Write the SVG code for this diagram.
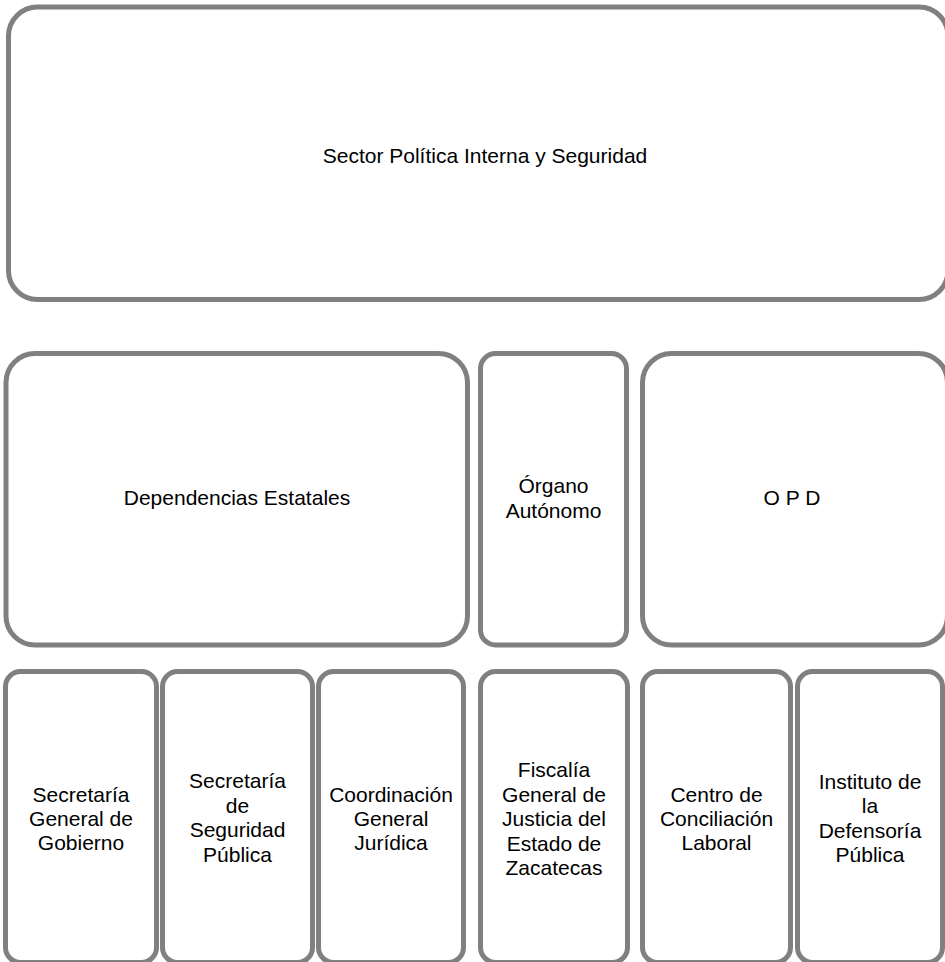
<svg xmlns="http://www.w3.org/2000/svg" width="945" height="962" viewBox="0 0 945 962">
<style>
.box{fill:#fff;stroke:#808080;stroke-width:5}
text{font-family:"Liberation Sans",Arial,sans-serif;font-size:21px;fill:#000;text-anchor:middle}
</style>
<rect width="945" height="962" fill="#fff"/>
<g id="sector"><rect class="box" x="8.5" y="7" width="939.5" height="292.5" rx="29"/><text x="485" y="163">Sector Política Interna y Seguridad</text></g>
<g id="dependencias"><rect class="box" x="6" y="353.5" width="461.5" height="291.5" rx="29"/><text x="237" y="505">Dependencias Estatales</text></g>
<g id="organo"><rect class="box" x="480.5" y="353.5" width="146" height="291.5" rx="15"/><text x="553.5" y="493">Órgano</text><text x="553.5" y="518">Autónomo</text></g>
<g id="opd"><rect class="box" x="642.5" y="353.5" width="305" height="291.5" rx="29"/><text x="792" y="505">O P D</text></g>
<g id="sgg"><rect class="box" x="5.5" y="671.5" width="151" height="291" rx="15"/><text x="81" y="802">Secretaría</text><text x="81" y="826">General de</text><text x="81" y="850">Gobierno</text></g>
<g id="ssp"><rect class="box" x="162.5" y="671.5" width="150" height="291" rx="15"/><text x="237.5" y="788">Secretaría</text><text x="237.5" y="813">de</text><text x="237.5" y="837">Seguridad</text><text x="237.5" y="862">Pública</text></g>
<g id="cgj"><rect class="box" x="318.5" y="671.5" width="145" height="291" rx="15"/><text x="391" y="802">Coordinación</text><text x="391" y="826">General</text><text x="391" y="850">Jurídica</text></g>
<g id="fiscalia"><rect class="box" x="480.5" y="671.5" width="147" height="291" rx="15"/><text x="554" y="777">Fiscalía</text><text x="554" y="801.5">General de</text><text x="554" y="826">Justicia del</text><text x="554" y="850.5">Estado de</text><text x="554" y="875">Zacatecas</text></g>
<g id="ccl"><rect class="box" x="642.5" y="671.5" width="148" height="291" rx="15"/><text x="716.5" y="802">Centro de</text><text x="716.5" y="826">Conciliación</text><text x="716.5" y="850">Laboral</text></g>
<g id="idp"><rect class="box" x="797.5" y="671.5" width="145" height="291" rx="15"/><text x="870" y="789">Instituto de</text><text x="870" y="813">la</text><text x="870" y="838">Defensoría</text><text x="870" y="862">Pública</text></g>
<g id="connectors"/>
</svg>
